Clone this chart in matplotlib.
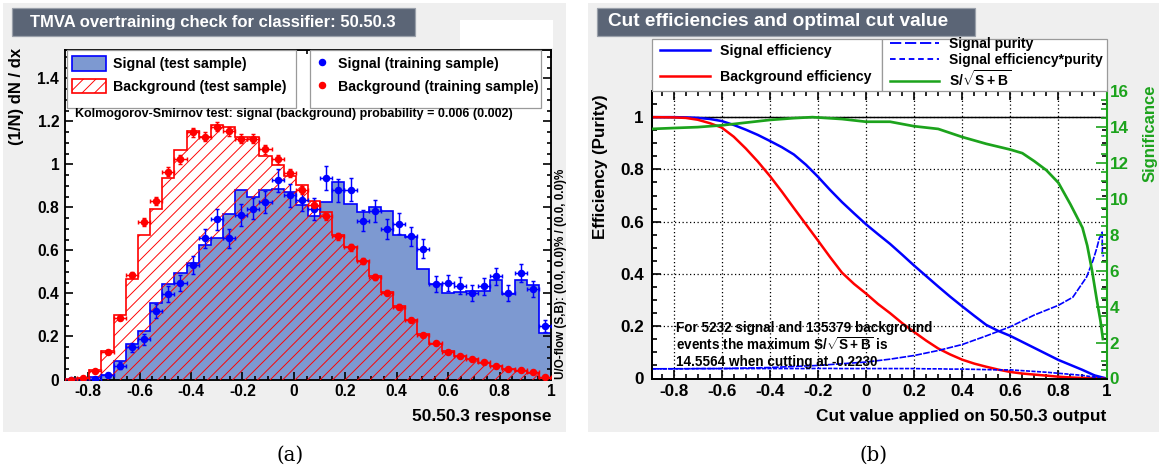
import numpy as np
import matplotlib.pyplot as plt
from matplotlib.patches import Rectangle, Patch
from matplotlib.lines import Line2D
from matplotlib.ticker import MultipleLocator, FuncFormatter

W, H, DPI = 1161, 473, 150

plt.rcParams.update({
    "font.family": ["Liberation Sans", "DejaVu Sans"],
    "font.weight": "bold",
    "mathtext.fontset": "custom",
    "mathtext.rm": "Liberation Sans:bold",
    "mathtext.bf": "Liberation Sans:bold",
    "mathtext.it": "Liberation Sans:bold",
    "hatch.linewidth": 0.45,
    "axes.linewidth": 0.9,
})

# ---------------- (a) overtraining check, 40 bins on [-0.89, 1.0] ----------------
x_lo, x_hi, n_bins = -0.89, 1.0, 40
sig_test = [0.0, 0.0, 0.01, 0.023, 0.085, 0.163, 0.225, 0.357, 0.445, 0.496,
            0.543, 0.625, 0.66, 0.77, 0.88, 0.848, 0.88, 0.884, 0.871, 0.81,
            0.76, 0.823, 0.918, 0.817, 0.781, 0.8, 0.785, 0.673, 0.662, 0.513,
            0.445, 0.402, 0.406, 0.412, 0.412, 0.464, 0.397, 0.464, 0.44, 0.216]
bkg_test = [0.003, 0.005, 0.045, 0.132, 0.298, 0.465, 0.671, 0.795, 0.935, 1.065,
            1.155, 1.128, 1.183, 1.174, 1.128, 1.128, 1.04, 0.998, 0.944, 0.905,
            0.831, 0.777, 0.673, 0.615, 0.552, 0.479, 0.406, 0.343, 0.278, 0.211,
            0.164, 0.133, 0.110, 0.095, 0.076, 0.064, 0.048, 0.040, 0.030, 0.006]
sig_train = [0.0, 0.0, 0.003, 0.02, 0.065, 0.15, 0.186, 0.318, 0.398, 0.45,
             0.532, 0.656, 0.744, 0.656, 0.764, 0.795, 0.825, 0.926, 0.857, 0.836,
             0.794, 0.936, 0.879, 0.882, 0.738, 0.784, 0.70, 0.724, 0.665, 0.608,
             0.443, 0.448, 0.437, 0.402, 0.433, 0.479, 0.402, 0.495, 0.42, 0.247]
sig_train_err = [0.0, 0.0, 0.005, 0.01, 0.015, 0.022, 0.025, 0.032, 0.036, 0.038,
                 0.042, 0.046, 0.049, 0.046, 0.05, 0.051, 0.052, 0.055, 0.053, 0.052,
                 0.051, 0.055, 0.053, 0.053, 0.049, 0.05, 0.047, 0.048, 0.046, 0.044,
                 0.038, 0.038, 0.038, 0.036, 0.038, 0.039, 0.036, 0.04, 0.037, 0.028]
bkg_train = [0.0, 0.005, 0.039, 0.127, 0.287, 0.485, 0.733, 0.83, 0.967, 1.023,
             1.15, 1.129, 1.175, 1.155, 1.12, 1.12, 1.07, 1.023, 0.96, 0.88,
             0.812, 0.758, 0.665, 0.614, 0.549, 0.476, 0.403, 0.338, 0.277, 0.208,
             0.168, 0.130, 0.107, 0.096, 0.080, 0.064, 0.050, 0.043, 0.034, 0.011]
bkg_train_err = [0.002, 0.003, 0.006, 0.009, 0.012, 0.014, 0.017, 0.018, 0.019, 0.02,
                 0.021, 0.021, 0.021, 0.021, 0.02, 0.02, 0.02, 0.02, 0.019, 0.018,
                 0.018, 0.017, 0.016, 0.015, 0.014, 0.013, 0.012, 0.011, 0.01, 0.009,
                 0.008, 0.007, 0.006, 0.006, 0.006, 0.005, 0.005, 0.004, 0.004, 0.002]

# ---------------- (b) cut efficiencies ----------------
cut_x = [-0.89, -0.8, -0.75, -0.7, -0.65, -0.6, -0.55, -0.5, -0.45, -0.4, -0.35, -0.3,
         -0.25, -0.2, -0.15, -0.1, -0.05, 0.0, 0.05, 0.1, 0.15, 0.2, 0.25, 0.3, 0.35,
         0.4, 0.45, 0.5, 0.55, 0.6, 0.65, 0.7, 0.75, 0.8, 0.85, 0.9, 0.95, 1.0]
sig_eff = [1.0, 1.0, 0.999, 0.997, 0.993, 0.985, 0.97, 0.952, 0.932, 0.909, 0.885, 0.857,
           0.818, 0.772, 0.722, 0.675, 0.632, 0.59, 0.552, 0.515, 0.474, 0.432, 0.392,
           0.352, 0.313, 0.276, 0.24, 0.205, 0.182, 0.163, 0.14, 0.117, 0.094, 0.071,
           0.052, 0.033, 0.012, 0.0]
bkg_eff = [1.0, 0.999, 0.997, 0.99, 0.977, 0.96, 0.925, 0.88, 0.83, 0.775, 0.715, 0.652,
           0.59, 0.528, 0.465, 0.405, 0.362, 0.325, 0.285, 0.25, 0.212, 0.178, 0.145,
           0.115, 0.092, 0.072, 0.057, 0.045, 0.034, 0.025, 0.019, 0.015, 0.011, 0.007,
           0.004, 0.002, 0.001, 0.0]
eff_pur = [0.037, 0.037, 0.037, 0.038, 0.038, 0.038, 0.038, 0.038, 0.038, 0.038, 0.038,
           0.038, 0.038, 0.0385, 0.0385, 0.038, 0.038, 0.038, 0.038, 0.038, 0.038, 0.038,
           0.037, 0.037, 0.036, 0.036, 0.035, 0.034, 0.033, 0.033, 0.03, 0.027, 0.024,
           0.02, 0.016, 0.012, 0.005, 0.0]
pur_x = [-0.89, -0.6, -0.4, -0.2, 0.0, 0.1, 0.2, 0.3, 0.4, 0.5, 0.6, 0.7, 0.8, 0.86,
         0.917, 0.944, 0.96, 0.97, 0.978, 0.982, 0.983, 0.99]
purity = [0.037, 0.038, 0.042, 0.05, 0.063, 0.074, 0.088, 0.107, 0.13, 0.163, 0.198, 0.243,
          0.28, 0.311, 0.388, 0.452, 0.5, 0.536, 0.55, 0.56, 0.47, 0.47]
sig_x = [-0.89, -0.8, -0.7, -0.6, -0.5, -0.4, -0.3, -0.223, -0.1, 0.0, 0.1, 0.2, 0.3, 0.4,
         0.5, 0.6, 0.65, 0.7, 0.75, 0.8, 0.85, 0.9, 0.92, 0.94, 0.96, 0.975, 0.985]
significance = [13.9, 13.95, 14.0, 14.1, 14.25, 14.4, 14.5, 14.556, 14.45, 14.3, 14.3, 14.05,
                13.9, 13.45, 13.07, 12.75, 12.55, 12.1, 11.6, 10.9, 9.7, 8.4, 7.4, 6.0,
                4.35, 3.2, 2.2]
sig_max = 14.5564

BLUE, RED, GREEN = "#0000ff", "#ff0000", "#1ca31c"
SIGFILL = "#7d99d1"
PANEL = "#efefef"
TITLEBOX = "#5b6576"


def fx(px):
    return px / W


def fy(py):
    return 1 - py / H


fig = plt.figure(figsize=(W / DPI, H / DPI), dpi=DPI, facecolor="white")

# panel backgrounds and title boxes
for x0, x1, tx1, tx0, title, tsize in [
        (3, 566, 415, 30, "TMVA overtraining check for classifier: 50.50.3", 8.0),
        (588, 1159, 975, 608, "Cut efficiencies and optimal cut value", 9.1)]:
    fig.patches.append(Rectangle((fx(x0), fy(432)), fx(x1 - x0), (432 - 3) / H,
                                 transform=fig.transFigure, facecolor=PANEL,
                                 edgecolor="none", zorder=-5))
    fig.patches.append(Rectangle((fx(x0 + 9), fy(36)), fx(tx1 - x0 - 9), 28 / H,
                                 transform=fig.transFigure, facecolor=TITLEBOX,
                                 edgecolor="#9aa0aa", lw=0.6, zorder=-4))
    fig.text(fx(tx0), fy(22), title, color="white", fontsize=tsize,
             ha="left", va="center")
fig.patches.append(Rectangle((fx(460), fy(48)), fx(93), 28 / H, transform=fig.transFigure,
                             facecolor="white", edgecolor="none", zorder=-4))


def style_axis(ax, xmaj, xmin, ymaj, ymin, lsize, xpad, ypad, tlen):
    ax.xaxis.set_major_locator(MultipleLocator(xmaj))
    ax.xaxis.set_minor_locator(MultipleLocator(xmin))
    ax.yaxis.set_major_locator(MultipleLocator(ymaj))
    ax.yaxis.set_minor_locator(MultipleLocator(ymin))
    fmt = FuncFormatter(lambda v, p: "0" if abs(v) < 1e-9 else "{:g}".format(round(v, 3)))
    ax.xaxis.set_major_formatter(fmt)
    ax.yaxis.set_major_formatter(fmt)
    ax.tick_params(which="both", direction="in", top=True, right=True, labelsize=lsize,
                   width=0.8)
    ax.tick_params(axis="x", which="major", length=tlen, pad=xpad)
    ax.tick_params(axis="y", which="major", length=tlen, pad=ypad)
    ax.tick_params(which="minor", length=tlen * 0.5)


# ======================= panel (a) =======================
edges = np.linspace(x_lo, x_hi, n_bins + 1)
centers = 0.5 * (edges[:-1] + edges[1:])
half = 0.5 * (edges[1] - edges[0])

ax1 = fig.add_axes([fx(65), fy(379.5), fx(486), 329.5 / H])
ax1.stairs(sig_test, edges, fill=True, facecolor=SIGFILL, edgecolor="none", zorder=1)
ax1.stairs(sig_test, edges, color=BLUE, lw=0.8, zorder=2)
ax1.stairs(bkg_test, edges, fill=True, facecolor="none", edgecolor=RED, hatch="////",
           lw=0, zorder=3)
ax1.stairs(bkg_test, edges, color=RED, lw=0.8, zorder=4)
ax1.errorbar(centers, sig_train, yerr=sig_train_err, xerr=half, fmt="o", ms=2.6,
             color=BLUE, elinewidth=0.7, capsize=0.8, capthick=0.7, zorder=5)
ax1.errorbar(centers, bkg_train, yerr=bkg_train_err, xerr=half, fmt="o", ms=2.6,
             color=RED, elinewidth=0.7, capsize=0.8, capthick=0.7, zorder=5)
ax1.set_xlim(x_lo, x_hi)
ax1.set_ylim(0, 1.532)
style_axis(ax1, 0.2, 0.05, 0.2, 0.05, 7.5, 2.4, 2.8, 4.0)

# legend boxes
for bx0, bx1 in [(67, 296), (310, 541)]:
    fig.patches.append(Rectangle((fx(bx0), fy(108)), fx(bx1 - bx0), 58 / H,
                                 transform=fig.transFigure, facecolor="white",
                                 edgecolor="#9a9a9a", lw=0.6, zorder=6))
h_sig = Patch(facecolor=SIGFILL, edgecolor=BLUE, lw=0.8)
h_bkg = Patch(facecolor="white", edgecolor=RED, hatch="////", lw=0.8)
leg1 = fig.legend([h_sig, h_bkg], ["Signal (test sample)", "Background (test sample)"],
                  loc="center left", bbox_to_anchor=(fx(72), fy(75)), frameon=False,
                  fontsize=6.8, handlelength=2.4, handleheight=1.2, handletextpad=0.5,
                  labelspacing=0.5, borderpad=0, borderaxespad=0)
h_ps = Line2D([], [], ls="none", marker="o", ms=2.6, color=BLUE)
h_pb = Line2D([], [], ls="none", marker="o", ms=2.6, color=RED)
leg2 = fig.legend([h_ps, h_pb], ["Signal (training sample)", "Background (training sample)"],
                  loc="center left", bbox_to_anchor=(fx(310), fy(75)), frameon=False,
                  fontsize=6.8, handlelength=1.7, handleheight=1.2, handletextpad=0.3,
                  labelspacing=0.5, borderpad=0, borderaxespad=0)
for lg in (leg1, leg2):
    lg.set_zorder(7)
fig.text(fx(75), fy(114), "Kolmogorov-Smirnov test: signal (background) probability = 0.006 (0.002)",
         fontsize=6.0, ha="left", va="center", zorder=7)
fig.text(fx(17), fy(48), "(1/N) dN / dx", rotation=90, fontsize=8.0, ha="center", va="top")
fig.text(fx(551), fy(417), "50.50.3 response", fontsize=8.3, ha="right", va="center")
fig.text(fx(561), fy(379), "U/O-flow (S,B): (0.0, 0.0)% / (0.0, 0.0)%", rotation=90,
         fontsize=5.6, ha="center", va="bottom")

# ======================= panel (b) =======================
ax2 = fig.add_axes([fx(652), fy(378.5), fx(454.5), 287.5 / H])
ax2.set_xlim(x_lo, x_hi)
ax2.set_ylim(0, 1.1)
ax2.grid(True, which="major", color="black", ls=(0, (1, 2)), lw=0.6)
ax2.axhline(1.0, color="black", lw=0.7, zorder=1)
ax2.plot(cut_x, sig_eff, color=BLUE, lw=1.2, zorder=3)
ax2.plot(cut_x, bkg_eff, color=RED, lw=1.2, zorder=3)
ax2.plot(pur_x, purity, color=BLUE, lw=0.8, ls=(0, (4, 0.8)), zorder=3)
ax2.plot(cut_x, eff_pur, color=BLUE, lw=0.8, ls=(0, (2.5, 0.8)), zorder=3)
ax3 = ax2.twinx()
ax3.set_ylim(0, sig_max * 1.1)
ax3.plot(sig_x, significance, color=GREEN, lw=1.3, zorder=3)
style_axis(ax2, 0.2, 0.05, 0.2, 0.05, 8.2, 2.4, 4.0, 4.5)
ax2.tick_params(right=False)
ax3.yaxis.set_major_locator(MultipleLocator(2))
ax3.yaxis.set_minor_locator(MultipleLocator(0.5))
ax3.tick_params(axis="y", which="both", direction="in", colors=GREEN, labelsize=8.2,
                width=0.8, pad=1.5)
ax3.tick_params(axis="y", which="major", length=5.5)
ax3.tick_params(axis="y", which="minor", length=2.8)
ax3.spines["right"].set_color(GREEN)
ax3.spines["right"].set_linewidth(1.0)

fig.text(fx(600), fy(94), "Efficiency (Purity)", rotation=90, fontsize=8.2,
         ha="center", va="top")
fig.text(fx(1150), fy(85), "Significance", rotation=90, fontsize=8.0, color=GREEN,
         ha="center", va="top")
fig.text(fx(1106), fy(417), "Cut value applied on 50.50.3 output", fontsize=8.3,
         ha="right", va="center")

info = ["For 5232 signal and 135379 background",
        r"events the maximum S/$\sqrt{\mathrm{S+B}}$ is",
        "14.5564 when cutting at -0.2230"]
for i, line in enumerate(info):
    fig.text(fx(676), fy(328 + 17 * i), line, fontsize=6.5, ha="left", va="center")

# legend boxes of (b)
for bx0, bx1 in [(652, 882), (882, 1107)]:
    fig.patches.append(Rectangle((fx(bx0), fy(91)), fx(bx1 - bx0), 52 / H,
                                 transform=fig.transFigure, facecolor="white",
                                 edgecolor="#9a9a9a", lw=0.6, zorder=6))
leg3 = fig.legend([Line2D([], [], color=BLUE, lw=1.2), Line2D([], [], color=RED, lw=1.2)],
                  ["Signal efficiency", "Background efficiency"],
                  loc="center left", bbox_to_anchor=(fx(660), fy(64)), frameon=False,
                  fontsize=6.8, handlelength=3.5, handletextpad=0.7, labelspacing=0.85,
                  borderpad=0, borderaxespad=0)
leg4 = fig.legend([Line2D([], [], color=BLUE, lw=0.9, ls=(0, (6, 2))),
                   Line2D([], [], color=BLUE, lw=0.9, ls=(0, (3, 2))),
                   Line2D([], [], color=GREEN, lw=1.2)],
                  ["Signal purity", "Signal efficiency*purity", r"S/$\sqrt{\mathrm{S+B}}$"],
                  loc="center left", bbox_to_anchor=(fx(890), fy(63)), frameon=False,
                  fontsize=6.7, handlelength=3.5, handletextpad=0.7, labelspacing=0.12,
                  borderpad=0, borderaxespad=0)
for lg in (leg3, leg4):
    lg.set_zorder(7)

fig.text(fx(290), fy(455), "(a)", fontsize=9.5, family="DejaVu Serif", weight="normal",
         ha="center", va="center")
fig.text(fx(874), fy(455), "(b)", fontsize=9.5, family="DejaVu Serif", weight="normal",
         ha="center", va="center")

fig.savefig("out.png", dpi=DPI)
